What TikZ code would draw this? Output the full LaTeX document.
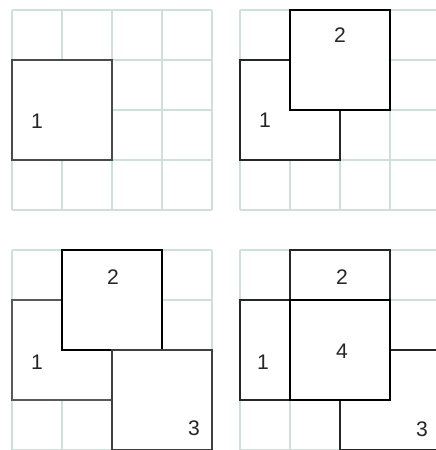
\documentclass[tikz,border=0pt]{standalone}
\usepackage{fontspec}
\setmainfont{Liberation Sans}
\definecolor{gridline}{HTML}{CFDFDA}
\definecolor{sqedge}{HTML}{4A4A4A}

\begin{document}
\begin{tikzpicture}[x=1cm, y=-1cm, font=\large,
    gridln/.style={draw=gridline, line width=0.6pt},
    tile/.style={draw=sqedge, fill=white, line width=1.3pt},
    newtile/.style={tile, draw=black, line width=1.6pt},
    num/.style={inner sep=0pt, text=black!85}]
  \useasboundingbox (0,0) rectangle (8.72,9);
  \clip (0,0) rectangle (8.72,9);

  % background grids, one per panel
  \foreach \ox/\oy in {0.24/0.2, 4.8/0.2, 0.24/5.0, 4.8/5.0} {
    \foreach \i in {0,...,4} {
      \draw[gridln] (\ox+\i,\oy) -- (\ox+\i,\oy+4);
      \draw[gridln] (\ox,\oy+\i) -- (\ox+4,\oy+\i);
    }
  }

  % --- panel 1 ---------------------------------------------------------
  \begin{scope}[shift={(0.24,0.2)}]
    \draw[tile] (0,1) rectangle (2,3);
    \node[num] (pone1) at (0.5,2.22) {1};
  \end{scope}

  % --- panel 2 ---------------------------------------------------------
  \begin{scope}[shift={(4.8,0.2)}]
    \draw[tile, draw=black!85] (0,1) rectangle (2,3);
    \node[num] (ptwo1) at (0.5,2.2) {1};
    \draw[newtile] (1,0) rectangle (3,2);
    \node[num] (ptwo2) at (2.0,0.5) {2};
  \end{scope}

  % --- panel 3 ---------------------------------------------------------
  \begin{scope}[shift={(0.24,5.0)}]
    \draw[tile, draw=black!65] (0,1) rectangle (2,3);
    \node[num] (pthree1) at (0.5,2.24) {1};
    \draw[newtile] (1,0) rectangle (3,2);
    \node[num] (pthree2) at (2.02,0.54) {2};
    \draw[tile, draw=black!75] (2,2) rectangle (4,4);
    \node[num] (pthree3) at (3.64,3.57) {3};
  \end{scope}

  % --- panel 4 ---------------------------------------------------------
  \begin{scope}[shift={(4.8,5.0)}]
    \draw[tile, draw=black!85] (0,1) rectangle (2,3);
    \node[num] (pfour1) at (0.46,2.24) {1};
    \draw[tile, draw=black!85] (1,0) rectangle (3,2);
    \node[num] (pfour2) at (2.04,0.54) {2};
    \draw[tile, draw=black!85] (2,2) rectangle (4,4);
    \node[num] (pfour3) at (3.64,3.58) {3};
    \draw[newtile] (1,1) rectangle (3,3);
    \node[num] (pfour4) at (2.04,2.02) {4};
  \end{scope}
\end{tikzpicture}
\end{document}
